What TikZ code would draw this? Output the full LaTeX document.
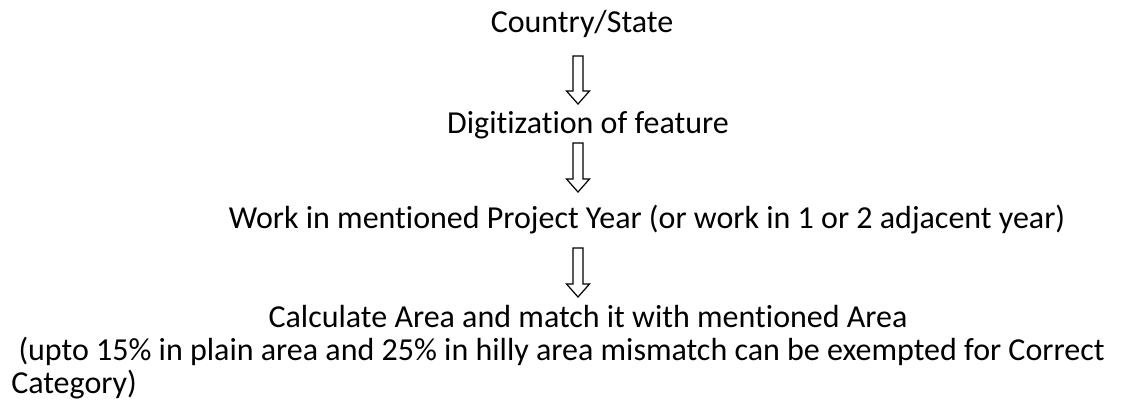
\documentclass[tikz,border=0pt]{standalone}
\usepackage{fontspec}
\setmainfont{Carlito}[Ligatures={NoCommon}]
\usetikzlibrary{calc}

\tikzset{
  flowtext/.style={inner sep=0pt, anchor=base, font=\fontsize{24}{29}\selectfont},
  hollowarrow/.style={draw=black, line width=0.9pt, fill=white, line join=miter}
}

% hollow block arrow pointing down, from top coordinate #1 to tip coordinate #2
\newcommand{\hollowdown}[2]{%
  \draw[hollowarrow] ($(#1)+(-5,0)$) -- ($(#1)+(5,0)$) -- ($(#2)+(5,-13)$)
    -- ($(#2)+(11.5,-13)$) -- (#2) -- ($(#2)+(-11.5,-13)$) -- ($(#2)+(-5,-13)$) -- cycle;}

\begin{document}
\begin{tikzpicture}[x=0.75pt, y=-0.75pt]
        \useasboundingbox (0,0) rectangle (1121,403);
        \node[flowtext] (country) at (582,33) {Country/State};
        \node[flowtext] (digit) at (588,133) {Digitization of feature};
        \node[flowtext] (work) at (647,228) {Work in mentioned Project Year (or work in 1 or 2 adjacent year)};
        \node[flowtext] (calc) at (588,327) {Calculate Area and match it with mentioned Area};
        \node[flowtext, anchor=base west] (note) at (11,360) {\ (upto 15\% in plain area and 25\% in hilly area mismatch can be exempted for Correct};
        \node[flowtext, anchor=base west] (notecont) at (11,393) {Category)};
        \coordinate (a1top) at (578,56);
        \coordinate (a1tip) at (578,104);
        \coordinate (a2top) at (578,143);
        \coordinate (a2tip) at (578,192);
        \coordinate (a3top) at (578,248);
        \coordinate (a3tip) at (578,297);
        \foreach \from/\to in {a1top/a1tip, a2top/a2tip, a3top/a3tip}
            \hollowdown{\from}{\to};
    \end{tikzpicture}
\end{document}
